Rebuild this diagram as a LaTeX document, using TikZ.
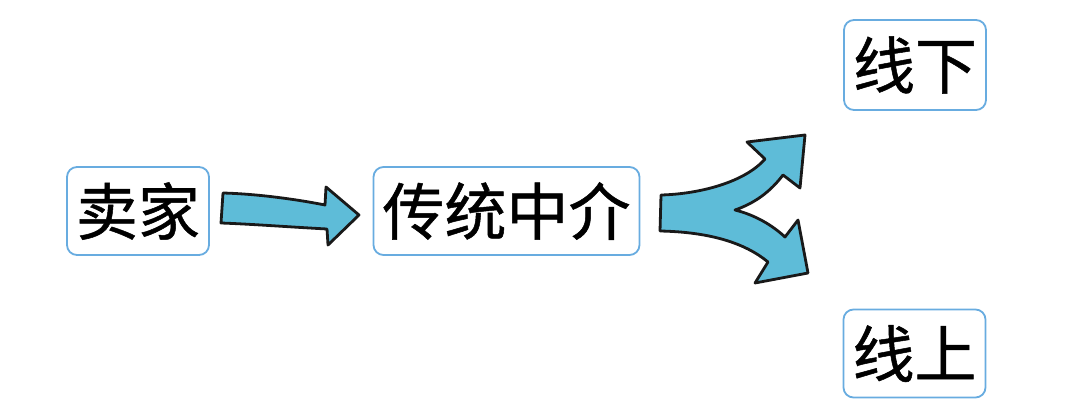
\documentclass[tikz,border=0pt]{standalone}
\usepackage{fontspec}
\usepackage{xcolor}
\usepackage{tikz}
\usetikzlibrary{positioning}
\newfontfamily\cjk[FakeBold=0.8]{Noto Sans CJK SC}
\definecolor{boxline}{RGB}{104,172,224}
\definecolor{arrowfill}{RGB}{94,188,216}

\begin{document}
\begin{tikzpicture}[
    x=0.5pt, y=-0.5pt,
    box/.style={rectangle, rounded corners=5pt, draw=boxline, line width=0.9pt, fill=white, minimum height=44pt, inner xsep=4.5pt, inner ysep=0pt, align=center, font=\cjk\fontsize{31}{36}\selectfont},
    bigarrow/.style={draw=black!90, line width=1.4pt, line join=round, fill=arrowfill}
]
\useasboundingbox (0,0) rectangle (1080,407);

\node[box] (seller) at (138,211) {卖家};
\node[box] (agent) at (506.5,211) {传统中介};
\node[box, minimum height=45pt] (offline) at (915,65) {线下};
\node[box] (online) at (914.5,353.5) {线上};

\draw[bigarrow] (223,193) .. controls (260,194) and (300,200) .. (325,205) -- (326,187) -- (359,215) -- (328,245) -- (327,229) .. controls (290,227) and (250,224) .. (221,223) -- cycle;

\draw[bigarrow] (661,195) .. controls (700,194) and (745,182) .. (765,159) -- (747,142) -- (805,135) -- (800,188) -- (783,175) .. controls (770,192) and (755,203) .. (735,210) .. controls (755,215) and (772,225) .. (785,237) -- (798,220) -- (808,273) -- (755,283) -- (768,262) .. controls (745,243) and (710,232) .. (660,231) -- cycle;

\end{tikzpicture}
\end{document}
